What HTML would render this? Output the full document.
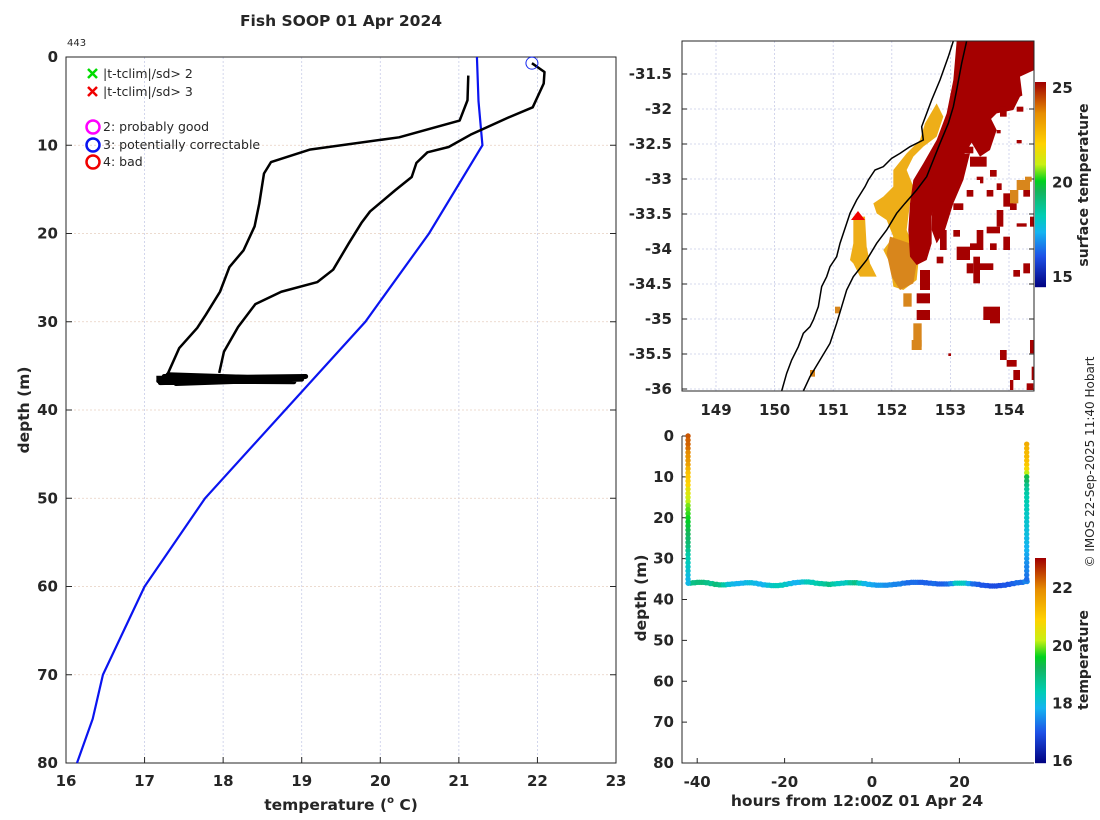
<!DOCTYPE html>
<html><head><meta charset="utf-8">
<style>
body{margin:0;background:#fff;}
svg{display:block;font-family:"DejaVu Sans","Liberation Sans",sans-serif;}
.b{font-weight:bold;fill:#262626;}
</style></head>
<body>
<svg id="s" width="1100" height="820" viewBox="0 0 1100 820" xmlns="http://www.w3.org/2000/svg">
<rect width="1100" height="820" fill="#fff"/>
<text x="341" y="26" text-anchor="middle" class="b" font-size="15.5">Fish SOOP 01 Apr 2024</text>
<text x="67" y="46" font-size="10" fill="#262626">443</text>
<g id="left"></g>
<g id="map"></g>
<g id="ts"></g>
<text transform="translate(1094,462) rotate(-90)" text-anchor="middle" font-size="12" fill="#262626">© IMOS 22-Sep-2025 11:40 Hobart</text>
</svg>
<script>
// ---------- data: left profile plot ----------
const tempTicks=[16,17,18,19,20,21,22,23];
const depthTicks=[0,10,20,30,40,50,60,70,80];
const climT=[21.23,21.25,21.30,20.62,19.81,18.79,17.77,17.0,16.47,16.34,16.14];
const climD=[0,5,10,20,30,40,50,60,70,75,80];
const profAT=[21.12,21.11,21.01,20.24,19.10,18.61,18.52,18.46,18.40,18.26,18.08,17.96,17.78,17.67,17.44,17.30];
const profAD=[2.1,4.9,7.2,9.1,10.5,11.9,13.2,16.6,19.2,21.9,23.8,26.6,29.2,30.7,33.0,35.8];
const profBT=[21.93,22.09,22.08,21.94,21.62,21.15,20.87,20.60,20.46,20.40,20.19,19.87,19.76,19.60,19.40,19.20,18.74,18.41,18.19,18.01,17.95];
const profBD=[0.7,1.7,3.0,5.7,6.9,8.8,10.2,10.8,12.0,13.6,15.1,17.5,18.8,21.1,24.1,25.5,26.6,28.0,30.6,33.4,35.8];
const blobT=[17.15,19.05,17.2,19.0,17.3,18.9,17.18,18.95,17.4,18.7,17.25,19.02];
const blobD=[36.4,36.2,36.9,36.5,36.0,36.8,36.7,36.3,37.0,36.6,36.2,36.4];
// ---------- data: depth-time plot ----------
const hourTicks=[-40,-20,0,20];
const tsDepthTicks=[0,10,20,30,40,50,60,70,80];
const cb2Ticks=[16,18,20,22];
const cb1Ticks=[15,20,25];
const bottomDepth=[36.0,35.9,35.8,35.8,35.9,36.1,36.3,36.4,36.4,36.3,36.2,36.1,36.0,35.9,35.9,36.0,36.2,36.4,36.5,36.6,36.6,36.5,36.3,36.1,35.9,35.8,35.7,35.7,35.8,36.0,36.1,36.2,36.3,36.2,36.1,36.0,35.9,35.9,35.9,36.0,36.1,36.3,36.4,36.5,36.5,36.5,36.4,36.3,36.2,36.0,35.9,35.8,35.8,35.8,35.9,36.0,36.1,36.2,36.2,36.2,36.1,36.0,36.0,36.0,36.1,36.2,36.3,36.5,36.6,36.7,36.7,36.6,36.5,36.3,36.1,35.9,35.8,35.6];
const bottomTemp=[18.7,18.9,19.0,19.0,18.9,18.8,19.0,18.9,18.6,18.2,18.0,17.9,17.9,18.0,18.1,18.0,17.9,17.9,18.1,18.3,18.4,18.4,18.3,18.1,17.9,17.9,18.2,18.4,18.4,18.5,18.6,18.7,18.9,18.6,18.4,18.3,18.4,18.7,18.9,18.4,18.0,17.9,17.8,17.7,17.7,17.6,17.6,17.5,17.5,17.4,17.3,17.3,17.3,17.2,17.2,17.2,17.3,17.2,17.2,17.3,17.6,18.3,18.4,18.3,17.8,17.3,17.2,17.1,17.1,17.0,17.0,17.0,17.1,17.1,17.2,17.3,17.3,17.5];
const bottomStartHour=-42;
const downHour=-42.1, upHour=35.4;
const downTemp=[22.4,22.3,22.3,22.2,22.0,21.9,21.8,21.7,21.4,21.2,21.1,21.0,20.9,20.6,20.5,20.3,20.2,20.0,19.9,19.8,19.7,19.6,19.5,19.4,19.3,19.2,19.1,19.0,18.8,18.6,18.5,18.4,18.3,18.2,18.1,18.0,18.0];
const upTemp=[21.5,21.4,21.3,21.3,21.2,21.1,20.8,20.2,19.4,19.2,18.9,18.7,18.6,18.5,18.5,18.4,18.4,18.3,18.3,18.2,18.2,18.1,18.1,18.0,18.0,17.9,17.9,17.8,17.7,17.6,17.5,17.5,17.4,17.3];
const upStartDepth=2;
// ---------- map ----------
const lonTicks=[149,150,151,152,153,154];
const latTicks=[-31.5,-32,-32.5,-33,-33.5,-34,-34.5,-35,-35.5,-36];

const NS="http://www.w3.org/2000/svg";
function mk(tag,attrs,parent){const e=document.createElementNS(NS,tag);for(const k in attrs)e.setAttribute(k,attrs[k]);parent.appendChild(e);return e;}
function txt(s,attrs,parent){const e=mk('text',attrs,parent);e.textContent=s;return e;}

const stops=[[0,[0,0,127]],[0.15,[30,80,230]],[0.27,[20,180,240]],[0.35,[0,205,180]],[0.47,[20,180,90]],[0.52,[0,210,30]],[0.6,[200,240,20]],[0.7,[255,210,0]],[0.85,[230,140,0]],[1,[160,0,0]]];
function cmap(t){t=Math.max(0,Math.min(1,t));for(let i=1;i<stops.length;i++){if(t<=stops[i][0]){const a=stops[i-1],b=stops[i];const f=(t-a[0])/(b[0]-a[0]);const c=a[1].map((v,j)=>Math.round(v+(b[1][j]-v)*f));return `rgb(${c})`;}}return 'rgb(160,0,0)';}

// ===== LEFT PLOT =====
const L=document.getElementById('left');
const lx0=66,lx1=616,ly0=57,ly1=763;
const xT=t=>lx0+(t-16)/(23-16)*(lx1-lx0);
const yD=d=>ly0+d/80*(ly1-ly0);
tempTicks.forEach(t=>{
  const g=mk('line',{x1:xT(t),x2:xT(t),y1:ly0,y2:ly1,stroke:'#c8cce8','stroke-width':0.8,'stroke-dasharray':'2,2'},L);
  
  
  const tk=mk('line',{x1:xT(t),x2:xT(t),y1:ly1,y2:ly1-6,stroke:'#262626'},L);
  
  
  const l=txt(t,{x:xT(t),y:ly1+23,'text-anchor':'middle',class:'b','font-size':15},L);
  
  
});
depthTicks.forEach(d=>{
  const g=mk('line',{x1:lx0,x2:lx1,y1:yD(d),y2:yD(d),stroke:'#e6cfc0','stroke-width':0.8,'stroke-dasharray':'2,2'},L);
  
  
  const tk=mk('path',{d:`M${lx0} ${yD(d)}h6M${lx1} ${yD(d)}h-6`,stroke:'#262626'},L);
  
  
  const l=txt(d,{x:lx0-8,y:yD(d)+5,'text-anchor':'end',class:'b','font-size':15},L);
  
  
});
const frame=mk('rect',{x:lx0,y:ly0,width:lx1-lx0,height:ly1-ly0,fill:'none',stroke:'#262626','stroke-width':1},L);


function poly(T,D,attrs,name){const p=mk('polyline',Object.assign({points:T.map((t,i)=>xT(t)+','+yD(D[i])).join(' '),fill:'none'},attrs),L);return p;}
poly(climT,climD,{stroke:'#0a14f0','stroke-width':2.2},'climatology-line');
poly(profAT,profAD,{stroke:'#000','stroke-width':2.5,'stroke-linejoin':'round'},'profile-line-down');
poly(profBT,profBD,{stroke:'#000','stroke-width':2.5,'stroke-linejoin':'round'},'profile-line-up');
poly(blobT,blobD,{stroke:'#000','stroke-width':5,'stroke-linejoin':'round'},'bottom-scribble');
const qc=mk('circle',{cx:xT(profBT[0]),cy:yD(profBD[0]),r:6,fill:'none',stroke:'#1428f0','stroke-width':1},L);


// legend
const lg=mk('g',{},L);


[['#00dc00','|t-tclim|/sd> 2',74],['#f00000','|t-tclim|/sd> 3',92]].forEach(([c,s,y])=>{
  const e=mk('path',{d:`M88 ${y-5}l9 9M97 ${y-5}l-9 9`,stroke:c,'stroke-width':2.5},lg);
  
  
  const t=txt(s,{x:103,y:y+4,'font-size':12.5,fill:'#262626'},lg);
  
  
});
[['#ff00ff','2: probably good',127],['#0a14f0','3: potentially correctable',145],['#f00000','4: bad',162]].forEach(([c,s,y])=>{
  const e=mk('circle',{cx:93,cy:y,r:6.5,fill:'none',stroke:c,'stroke-width':2.5},lg);
  
  
  const t=txt(s,{x:103,y:y+4,'font-size':12.5,fill:'#262626'},lg);
  
  
});
const xl=txt('',{x:341,y:810,'text-anchor':'middle',class:'b','font-size':15.5},L);
xl.innerHTML='temperature (<tspan font-size="10" dy="-7">o</tspan><tspan dy="7"> C)</tspan>';


const yl=txt('depth (m)',{transform:'translate(29,410) rotate(-90)','text-anchor':'middle',class:'b','font-size':15.5},L);



// ===== MAP =====
const M=document.getElementById('map');
const mx0=682,mx1=1034,my0=41,my1=391;
const xLon=l=>716+(l-149)*58.6;
const yLat=l=>74+(-31.5-l)*70;
lonTicks.forEach(l=>{
  const g=mk('line',{x1:xLon(l),x2:xLon(l),y1:my0,y2:my1,stroke:'#c8cce8','stroke-width':0.8,'stroke-dasharray':'2,2'},M);
  
  
  const t=txt(l,{x:xLon(l),y:my1+24,'text-anchor':'middle',class:'b','font-size':15},M);
  
  
});
latTicks.forEach(l=>{
  const g=mk('line',{x1:mx0,x2:mx1,y1:yLat(l),y2:yLat(l),stroke:'#c8cce8','stroke-width':0.8,'stroke-dasharray':'2,2'},M);
  
  
  const tk=mk('path',{d:`M${mx0} ${yLat(l)}h5M${mx1} ${yLat(l)}h-5`,stroke:'#262626'},M);
  
  
  const t=txt(l,{x:mx0-10,y:yLat(l)+5,'text-anchor':'end',class:'b','font-size':15},M);
  
  
});
const mg=mk('g',{transform:'translate(620,30) scale(0.33333)'},M);


const red='#a50000',orng='#eeae18',dorng='#d8861c';
function shape(d,fill,name){const e=mk('path',{d:d,fill:fill},mg);}
shape('M950 220L970 260L950 320L910 350L880 380L860 420L880 470L870 520L860 600L880 650L895 700L890 750L850 780L820 770L810 700L790 660L820 620L800 570L770 550L760 520L790 500L820 470L820 420L860 370L900 330L915 280Z',orng,'warm-water-patch');
shape('M810 620L870 640L890 700L880 760L840 780L815 740L800 670Z',dorng,'warm-water-patch');
shape('M700 560L735 560L740 650L750 700L770 740L720 740L700 700L690 690L700 640Z',orng,'warm-water-patch');
shape('M1010 33L1243 33L1243 180L1200 200L1180 240L1130 250L1090 290L1060 330L1035 370L1000 400L975 450L945 500L935 560L935 640L920 690L890 705L870 680L865 600L870 520L880 450L910 400L950 330L980 250L1000 150Z',red,'eac-warm-core');
shape('M1060 250L1100 240L1130 300L1110 360L1080 380L1050 330Z',red,'eac-warm-core');
shape('M940 380L1050 370L1030 450L1000 520L975 600L950 640L935 600Z',red,'eac-warm-core');
shape('M1200 140L1243 120L1243 210L1210 220Z','#fff','cloud-gap');
const specks=[[1140,230,20,30],[1190,230,20,15],[1020,350,40,20],[1050,380,50,30],[1070,440,20,20],[1110,420,20,20],[1130,460,15,20],[1100,480,20,20],[1150,490,30,40],[1170,520,20,20],[1130,540,20,50],[1100,590,40,20],[1070,600,20,60],[1050,640,30,20],[1010,650,40,40],[1060,680,20,80],[1080,700,40,20],[1040,700,20,30],[960,600,20,60],[950,680,20,20],[1000,600,20,20],[1110,640,20,20],[1150,620,20,40],[1190,580,30,10],[1230,560,13,30],[1180,720,20,20],[1210,700,20,30],[1090,830,50,40],[1110,860,30,20],[1140,960,20,30],[1160,990,30,20],[1180,1020,20,30],[1170,1050,10,30],[1220,1060,20,20],[1230,930,13,40],[1235,1010,8,40],[900,720,30,60],[890,790,40,30],[890,840,40,30],[985,970,8,8],[1000,520,30,20],[1040,480,20,20],[960,500,15,15],[1190,330,15,10],[1130,300,12,10],[1020,390,20,10],[1210,480,20,20]];
specks.forEach(r=>{const e=mk('rect',{x:r[0],y:r[1],width:r[2],height:r[3],fill:red},mg);});
const orPatches=[[880,880,25,70],[875,930,30,30],[850,790,25,40],[1170,480,25,40],[1190,450,40,30],[1215,440,20,15],[570,1020,15,20],[645,830,15,20]];
orPatches.forEach(r=>{const e=mk('rect',{x:r[0],y:r[1],width:r[2],height:r[3],fill:dorng},mg);});
[[1050,450,30,30],[1100,500,30,40],[1060,560,40,20]].forEach(r=>{const e=mk('rect',{x:r[0],y:r[1],width:r[2],height:r[3],fill:'#fff'},mg);});
const coast=mk('polyline',{points:'1000,33 985,80 960,150 935,210 920,250 905,290 910,330 870,350 840,370 815,385 790,410 765,420 745,450 735,470 710,510 690,550 680,580 670,610 660,640 650,680 630,710 620,740 605,770 600,800 595,830 580,870 570,890 550,910 535,950 515,990 500,1030 485,1083',fill:'none',stroke:'#000','stroke-width':4.5},mg);


const iso=mk('polyline',{points:'1040,33 1025,100 1010,180 1000,230 985,280 960,340 940,390 920,440 890,480 855,520 830,550 800,600 770,640 740,690 700,740 680,780 665,830 650,880 630,940 600,990 570,1040 550,1083',fill:'none',stroke:'#000','stroke-width':4.5},mg);


const tri=mk('path',{d:'M858 211l7 9h-14z',fill:'#f00000'},M);


const mf=mk('rect',{x:mx0,y:my0,width:mx1-mx0,height:my1-my0,fill:'none',stroke:'#262626'},M);


// colorbar 1
const cb1y=t=>277-(t-15)*18.9;
for(let y=82;y<287;y++){const t=(25.3-(y-82)/205*(25.3-14.47)-14.47)/(25.3-14.47);const r=mk('rect',{x:1035,y:y,width:11,height:1.2,fill:cmap(t)},M);}
cb1Ticks.forEach(t=>{const e=txt(t,{x:1052,y:cb1y(t)+5,class:'b','font-size':15},M);});
const cbl1=txt('surface temperature',{transform:'translate(1088,185) rotate(-90)','text-anchor':'middle',class:'b','font-size':14},M);



// ===== DEPTH-TIME PLOT =====
const T=document.getElementById('ts');
const tx0=682,tx1=1034,ty0=436,ty1=763;
const xH=h=>872+h*4.37;
const yT=d=>ty0+d/80*(ty1-ty0);
const tcol=t=>cmap((t-16)/(23.04-16));
hourTicks.forEach(h=>{
  const tk=mk('line',{x1:xH(h),x2:xH(h),y1:ty1,y2:ty1-5,stroke:'#262626'},T);
  
  
  const l=txt(h,{x:xH(h),y:ty1+24,'text-anchor':'middle',class:'b','font-size':15},T);
  
  
});
tsDepthTicks.forEach(d=>{
  const tk=mk('line',{x1:tx0,x2:tx0+5,y1:yT(d),y2:yT(d),stroke:'#262626'},T);
  
  
  const l=txt(d,{x:tx0-8,y:yT(d)+5,'text-anchor':'end',class:'b','font-size':15},T);
  
  
});
const ax=mk('path',{d:`M${tx0} ${ty0}V${ty1}H${tx1}`,fill:'none',stroke:'#262626'},T);


function dot(h,d,t){const c=mk('circle',{cx:xH(h),cy:yT(d),r:2.7,fill:tcol(t)},T);}
bottomDepth.forEach((d,i)=>{dot(bottomStartHour+i,d,bottomTemp[i]);dot(bottomStartHour+i+0.5,d,bottomTemp[i]);});
downTemp.forEach((t,i)=>dot(downHour,i,t));
upTemp.forEach((t,i)=>dot(upHour,upStartDepth+i,t));
// colorbar 2
const cb2y=t=>761-(t-16)*28.8;
for(let y=558;y<763;y++){const t=(23.04-(y-558)/205*(23.04-16)-16)/(23.04-16);const r=mk('rect',{x:1035,y:y,width:11,height:1.2,fill:cmap(t)},T);}
cb2Ticks.forEach(t=>{const e=txt(t,{x:1052,y:cb2y(t)+5,class:'b','font-size':15},T);});
const cbl2=txt('temperature',{transform:'translate(1088,660) rotate(-90)','text-anchor':'middle',class:'b','font-size':14},T);


const txl=txt('hours from 12:00Z 01 Apr 24',{x:857,y:806,'text-anchor':'middle',class:'b','font-size':15.5},T);


const tyl=txt('depth (m)',{transform:'translate(646,598) rotate(-90)','text-anchor':'middle',class:'b','font-size':15.5},T);


</script>
</body></html>
